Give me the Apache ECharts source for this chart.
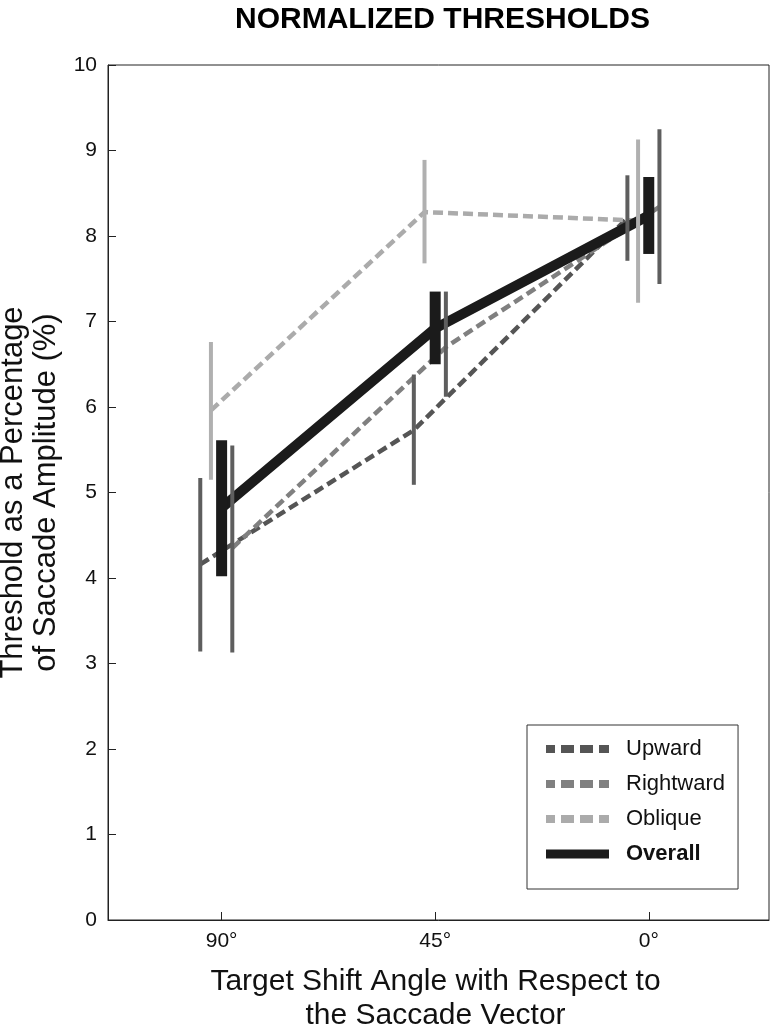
<!DOCTYPE html>
<html>
<head>
<meta charset="utf-8">
<script src="https://cdn.jsdelivr.net/npm/echarts@6/dist/echarts.min.js"></script>
<style>html,body{margin:0;padding:0;background:#fff}#c{width:770px;height:1034px}</style>
</head>
<body>
<div id="c"></div>
<script>
const categories = ['90°', '45°', '0°'];
const yTicks = [0, 1, 2, 3, 4, 5, 6, 7, 8, 9, 10];

const upwardMean = [4.16, 5.73, 8.21];
const upwardLow = [3.14, 5.09, 7.71];
const upwardHigh = [5.17, 6.38, 8.71];

const rightwardMean = [4.35, 6.70, 8.34];
const rightwardLow = [3.13, 6.12, 7.44];
const rightwardHigh = [5.55, 7.35, 9.25];

const obliqueMean = [5.96, 8.28, 8.18];
const obliqueLow = [5.15, 7.68, 7.22];
const obliqueHigh = [6.76, 8.89, 9.13];

const overallMean = [4.82, 6.92, 8.24];
const overallLow = [4.02, 6.50, 7.79];
const overallHigh = [5.61, 7.35, 8.69];

const FONT = '"Liberation Sans", Arial, sans-serif';

function pts(means, off) {
  return means.map((m, i) => [i + off, m]);
}
function bars(lows, highs, off) {
  return lows.map((l, i) => [i + off, l, highs[i]]);
}
function errSeries(name, data, color, w, z) {
  return {
    name: name,
    type: 'custom',
    z: z,
    silent: true,
    data: data,
    renderItem: function (params, api) {
      const x = api.value(0);
      const top = api.coord([x, api.value(2)]);
      const bot = api.coord([x, api.value(1)]);
      return {
        type: 'rect',
        shape: { x: top[0] - w / 2, y: top[1], width: w, height: bot[1] - top[1] },
        style: { fill: color }
      };
    }
  };
}
function lineSeries(name, data, color, width, dashed, z) {
  return {
    name: name,
    type: 'line',
    z: z,
    data: data,
    symbol: 'none',
    silent: true,
    itemStyle: { color: color },
    lineStyle: { color: color, width: width, type: dashed ? [10, 5] : 'solid', cap: 'butt' }
  };
}

const OFF_UP = -0.1, OFF_OB = -0.05, OFF_OV = 0, OFF_RI = 0.05;
const dashIcon = 'path://M0,0h9v8h-9z M15,0h13v8h-13z M34,0h13v8h-13z M53,0h10v8h-10z';

const chart = echarts.init(document.getElementById('c'), null, { renderer: 'canvas' });
chart.setOption({
  animation: false,
  backgroundColor: '#fff',
  title: {
    text: 'NORMALIZED THRESHOLDS',
    left: 230, top: -1,
    textStyle: { fontFamily: FONT, fontSize: 30, fontWeight: 'bold', color: '#000', lineHeight: 32 }
  },
  grid: {
    left: 108, top: 65, right: 1, bottom: 114,
    containLabel: false,
    outerBoundsMode: 'none',
    show: true, borderColor: '#222', borderWidth: 1, backgroundColor: 'transparent'
  },
  legend: {
    orient: 'vertical',
    left: 527, top: 725,
    selectedMode: false,
    backgroundColor: '#fff',
    borderColor: '#333', borderWidth: 1,
    padding: [12, 13, 23, 19],
    itemWidth: 63, itemHeight: 9, itemGap: 11,
    textStyle: { fontFamily: FONT, fontSize: 22, color: '#111', lineHeight: 24, padding: [0, 0, 0, 12] },
    data: [
      { name: 'Upward', icon: dashIcon },
      { name: 'Rightward', icon: dashIcon },
      { name: 'Oblique', icon: dashIcon },
      { name: 'Overall', icon: 'rect', textStyle: { fontWeight: 'bold' } }
    ]
  },
  xAxis: {
    type: 'value',
    min: -0.532, max: 2.563,
    name: 'Target Shift Angle with Respect to\nthe Saccade Vector',
    nameLocation: 'middle',
    nameGap: 45,
    nameTextStyle: { fontFamily: FONT, fontSize: 30, color: '#111', lineHeight: 34, padding: [0, 6, 0, 0] },
    axisLine: { show: true, onZero: false, lineStyle: { color: '#222', width: 1 } },
    splitLine: { show: false },
    axisTick: { show: true, inside: true, length: 8, customValues: [0, 1, 2], lineStyle: { color: '#222' } },
    axisLabel: {
      customValues: [0, 1, 2],
      margin: 11,
      fontFamily: FONT, fontSize: 21, color: '#111',
      formatter: function (v) { return categories[Math.round(v)]; }
    }
  },
  yAxis: {
    type: 'value',
    min: 0, max: 10, interval: 1,
    name: 'Threshold as a Percentage\nof Saccade Amplitude (%)',
    nameLocation: 'middle',
    nameGap: 42,
    nameTextStyle: { fontFamily: FONT, fontSize: 31, color: '#111', lineHeight: 33, padding: [0, 0, 0, 0] },
    axisLine: { show: true, onZero: false, lineStyle: { color: '#222', width: 1 } },
    splitLine: { show: false },
    axisTick: { show: true, inside: true, length: 8, lineStyle: { color: '#222' } },
    axisLabel: {
      margin: 11, fontFamily: FONT, fontSize: 21, color: '#111',
      formatter: function (v) { return yTicks.indexOf(v) >= 0 ? String(v) : ''; }
    }
  },
  series: [
    lineSeries('Upward', pts(upwardMean, OFF_UP), '#555555', 4.5, true, 2),
    lineSeries('Rightward', pts(rightwardMean, OFF_RI), '#808080', 4.5, true, 2),
    lineSeries('Oblique', pts(obliqueMean, OFF_OB), '#ababab', 4.5, true, 2),
    lineSeries('Overall', pts(overallMean, OFF_OV), '#1b1b1b', 10, false, 3),
    errSeries('Upward err', bars(upwardLow, upwardHigh, OFF_UP), '#5e5e5e', 4, 4),
    errSeries('Rightward err', bars(rightwardLow, rightwardHigh, OFF_RI), '#5e5e5e', 4, 4),
    errSeries('Oblique err', bars(obliqueLow, obliqueHigh, OFF_OB), '#b0b0b0', 4, 4),
    errSeries('Overall err', bars(overallLow, overallHigh, OFF_OV), '#1b1b1b', 11, 5)
  ]
});
</script>
</body>
</html>
